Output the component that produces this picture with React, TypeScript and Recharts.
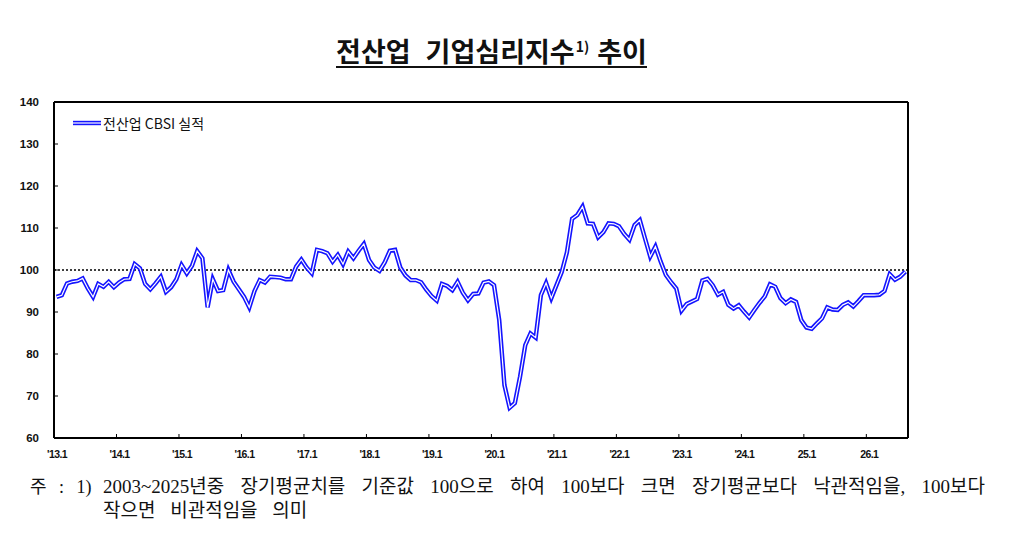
import React from "react";
import {
  LineChart,
  Line,
  XAxis,
  YAxis,
  ReferenceLine,
} from "recharts";

// monthly CBSI, '13.1 ~ '26.8
const cbsi2013 = [93.6, 94.0, 96.8, 97.2, 97.4, 98.0, 95.6, 93.6, 96.7, 96.0, 97.2, 95.9];
const cbsi2014 = [97.0, 97.8, 97.9, 101.4, 100.4, 96.7, 95.4, 96.8, 98.4, 94.8, 95.9, 97.8];
const cbsi2015 = [101.2, 99.2, 101.0, 104.5, 102.8, 91.1, 97.8, 95.0, 95.2, 100.0, 97.2, 95.4];
const cbsi2016 = [93.6, 91.1, 95.0, 97.6, 97.0, 98.4, 98.3, 98.2, 97.8, 97.8, 100.8, 102.5];
const cbsi2017 = [100.6, 99.2, 104.8, 104.5, 104.0, 102.0, 103.6, 101.4, 104.4, 102.8, 104.6, 106.2];
const cbsi2018 = [102.4, 100.6, 99.8, 101.8, 104.6, 104.8, 100.6, 98.7, 97.6, 97.6, 97.1, 95.3];
const cbsi2019 = [93.8, 92.7, 96.7, 96.2, 95.2, 97.2, 94.6, 92.8, 94.3, 94.4, 97.0, 97.3];
const cbsi2020 = [96.4, 88.1, 72.6, 67.2, 68.3, 74.6, 82.1, 84.9, 83.9, 94.0, 96.9, 93.3];
const cbsi2021 = [96.4, 99.5, 104.2, 112.2, 113.1, 115.1, 111.1, 111.0, 107.8, 109.0, 111.1, 111.0];
const cbsi2022 = [110.4, 108.6, 107.2, 110.7, 111.9, 107.5, 103.2, 105.6, 102.0, 98.8, 97.1, 95.6];
const cbsi2023 = [90.3, 91.9, 92.5, 93.1, 97.5, 97.9, 96.4, 94.1, 94.8, 91.7, 90.8, 91.6];
const cbsi2024 = [90.1, 88.7, 90.5, 92.2, 93.7, 96.6, 96.0, 93.3, 92.1, 93.0, 92.4, 88.1];
const cbsi2025 = [86.3, 86.0, 87.3, 88.5, 91.1, 90.6, 90.5, 91.7, 92.3, 91.3, 92.6, 94.0];
const cbsi2026 = [94.0, 94.0, 94.1, 95.0, 99.0, 97.7, 98.4, 99.6];

const tickLabels = [
  "'13.1", "'14.1", "'15.1", "'16.1", "'17.1", "'18.1", "'19.1",
  "'20.1", "'21.1", "'22.1", "'23.1", "'24.1", "25.1", "26.1",
];
const yTicks = [60, 70, 80, 90, 100, 110, 120, 130, 140];

const seriesName = "전산업 CBSI 실적";

const values = [
  ...cbsi2013, ...cbsi2014, ...cbsi2015, ...cbsi2016, ...cbsi2017,
  ...cbsi2018, ...cbsi2019, ...cbsi2020, ...cbsi2021, ...cbsi2022,
  ...cbsi2023, ...cbsi2024, ...cbsi2025, ...cbsi2026,
];
const data = values.map((v, i) => ({ x: i + 0.5, v }));
const xTicks = tickLabels.map((_, k) => k * 12);

const tickFont = {
  fontFamily: "'Liberation Sans', Arial, sans-serif",
  fontWeight: 700,
  fontSize: 11.5,
  fill: "#111",
};

const LeftTick = (props: any) => {
  const { x, y, payload } = props;
  return (
    <g>
      <line x1={x} x2={x + 4} y1={y} y2={y} stroke="#000" strokeWidth={1} />
      <text x={x - 15} y={y} dy={4} textAnchor="end" {...tickFont}>
        {payload.value}
      </text>
    </g>
  );
};

const RightTick = (props: any) => {
  const { x, y, payload } = props;
  return (
    <g>
      <line x1={x - 4} x2={x} y1={y} y2={y} stroke="#000" strokeWidth={1} />
      <text x={x + 14} y={y} dy={4} textAnchor="start" {...tickFont}>
        {payload.value}
      </text>
    </g>
  );
};

const BottomTick = (props: any) => {
  const { x, y, payload, index } = props;
  return (
    <g>
      <line x1={x} x2={x} y1={y - 4} y2={y} stroke="#000" strokeWidth={1} />
      <text
        x={x + 3}
        y={y + 20}
        textAnchor="middle"
        {...tickFont}
        fontSize={10.5}
        letterSpacing={-0.6}
      >
        {tickLabels[index] ?? payload.value}
      </text>
    </g>
  );
};

const noteFont = "'Liberation Serif', 'Noto Sans CJK KR', serif";

export default function App() {
  return (
    <div
      style={{
        position: "absolute",
        left: 0,
        top: 0,
        width: 1015,
        height: 537,
        background: "#fff",
        overflow: "hidden",
      }}
    >
      {/* title */}
      <div
        style={{
          position: "absolute",
          left: 0,
          width: 983,
          top: 31,
          textAlign: "center",
          fontFamily: "'Noto Sans CJK KR', sans-serif",
          fontWeight: 700,
          fontSize: 27,
          lineHeight: "31px",
          color: "#111",
        }}
      >
        <span
          style={{
            display: "inline-block",
            borderBottom: "2px solid #111",
            lineHeight: "31px",
            whiteSpace: "nowrap",
          }}
        >
          <span>전산업</span>
          <span style={{ display: "inline-block", width: 15 }} />
          <span>기업심리지수</span>
          <sup style={{ fontSize: 14, verticalAlign: 10, marginLeft: 1 }}>1)</sup>
          <span style={{ display: "inline-block", width: 8 }} />
          <span>추이</span>
        </span>
      </div>

      <div style={{ position: "absolute", left: 0, top: 0 }}>
        <LineChart
          width={1015}
          height={537}
          data={data}
          margin={{ top: 102, right: 57, bottom: 69, left: 0 }}
        >
          <XAxis
            dataKey="x"
            type="number"
            domain={[0, 164]}
            ticks={xTicks}
            interval={0}
            height={30}
            tickSize={0}
            tickMargin={0}
            tick={<BottomTick />}
            tickLine={false}
            axisLine={{ stroke: "#000", strokeWidth: 2 }}
          />
          <YAxis
            yAxisId="left"
            orientation="left"
            width={54}
            domain={[60, 140]}
            ticks={yTicks}
            interval={0}
            tickSize={0}
            tickMargin={0}
            tick={<LeftTick />}
            tickLine={false}
            axisLine={{ stroke: "#000", strokeWidth: 2 }}
          />
          <YAxis
            yAxisId="right"
            orientation="right"
            width={50}
            domain={[60, 140]}
            ticks={yTicks}
            interval={0}
            tickSize={0}
            tickMargin={0}
            tick={<RightTick />}
            tickLine={false}
            axisLine={{ stroke: "#000", strokeWidth: 2 }}
          />
          <ReferenceLine yAxisId="left" y={140} stroke="#000" strokeWidth={2} />
          <ReferenceLine
            yAxisId="left"
            y={100}
            stroke="#000"
            strokeWidth={1.6}
            strokeDasharray="2 2"
          />
          <Line
            yAxisId="left"
            dataKey="v"
            type="linear"
            stroke="#1414ff"
            strokeWidth={4.4}
            dot={false}
            activeDot={false}
            isAnimationActive={false}
          />
          <Line
            yAxisId="left"
            dataKey="v"
            type="linear"
            stroke="#ffffff"
            strokeWidth={1.2}
            dot={false}
            activeDot={false}
            isAnimationActive={false}
          />
        </LineChart>
      </div>

      {/* legend */}
      <div
        style={{
          position: "absolute",
          left: 72,
          top: 113,
          display: "flex",
          alignItems: "center",
          fontFamily: "'Noto Sans CJK KR', sans-serif",
          fontSize: 14,
          color: "#111",
        }}
      >
        <svg width={30} height={10}>
          <line x1={1} x2={29} y1={5} y2={5} stroke="#1414ff" strokeWidth={4.4} />
          <line x1={1} x2={29} y1={5} y2={5} stroke="#fff" strokeWidth={1.2} />
        </svg>
        <span style={{ marginLeft: 1 }}>{seriesName}</span>
      </div>

      {/* footnote */}
      <div
        style={{
          position: "absolute",
          left: 30,
          top: 475,
          fontFamily: noteFont,
          fontSize: 18,
          lineHeight: "24px",
          wordSpacing: 8,
          color: "#111",
          whiteSpace: "nowrap",
        }}
      >
        주 : 1)
      </div>
      <div
        style={{
          position: "absolute",
          left: 103,
          top: 475,
          width: 882,
          fontFamily: noteFont,
          fontSize: 19,
          lineHeight: "24px",
          color: "#111",
          textAlign: "justify",
          textAlignLast: "justify",
          whiteSpace: "nowrap",
        }}
      >
        2003~2025년중 장기평균치를 기준값 100으로 하여 100보다 크면 장기평균보다 낙관적임을, 100보다
      </div>
      <div
        style={{
          position: "absolute",
          left: 103,
          top: 499,
          fontFamily: noteFont,
          fontSize: 19,
          lineHeight: "24px",
          wordSpacing: 10,
          color: "#111",
          whiteSpace: "nowrap",
        }}
      >
        작으면 비관적임을 의미
      </div>
    </div>
  );
}
